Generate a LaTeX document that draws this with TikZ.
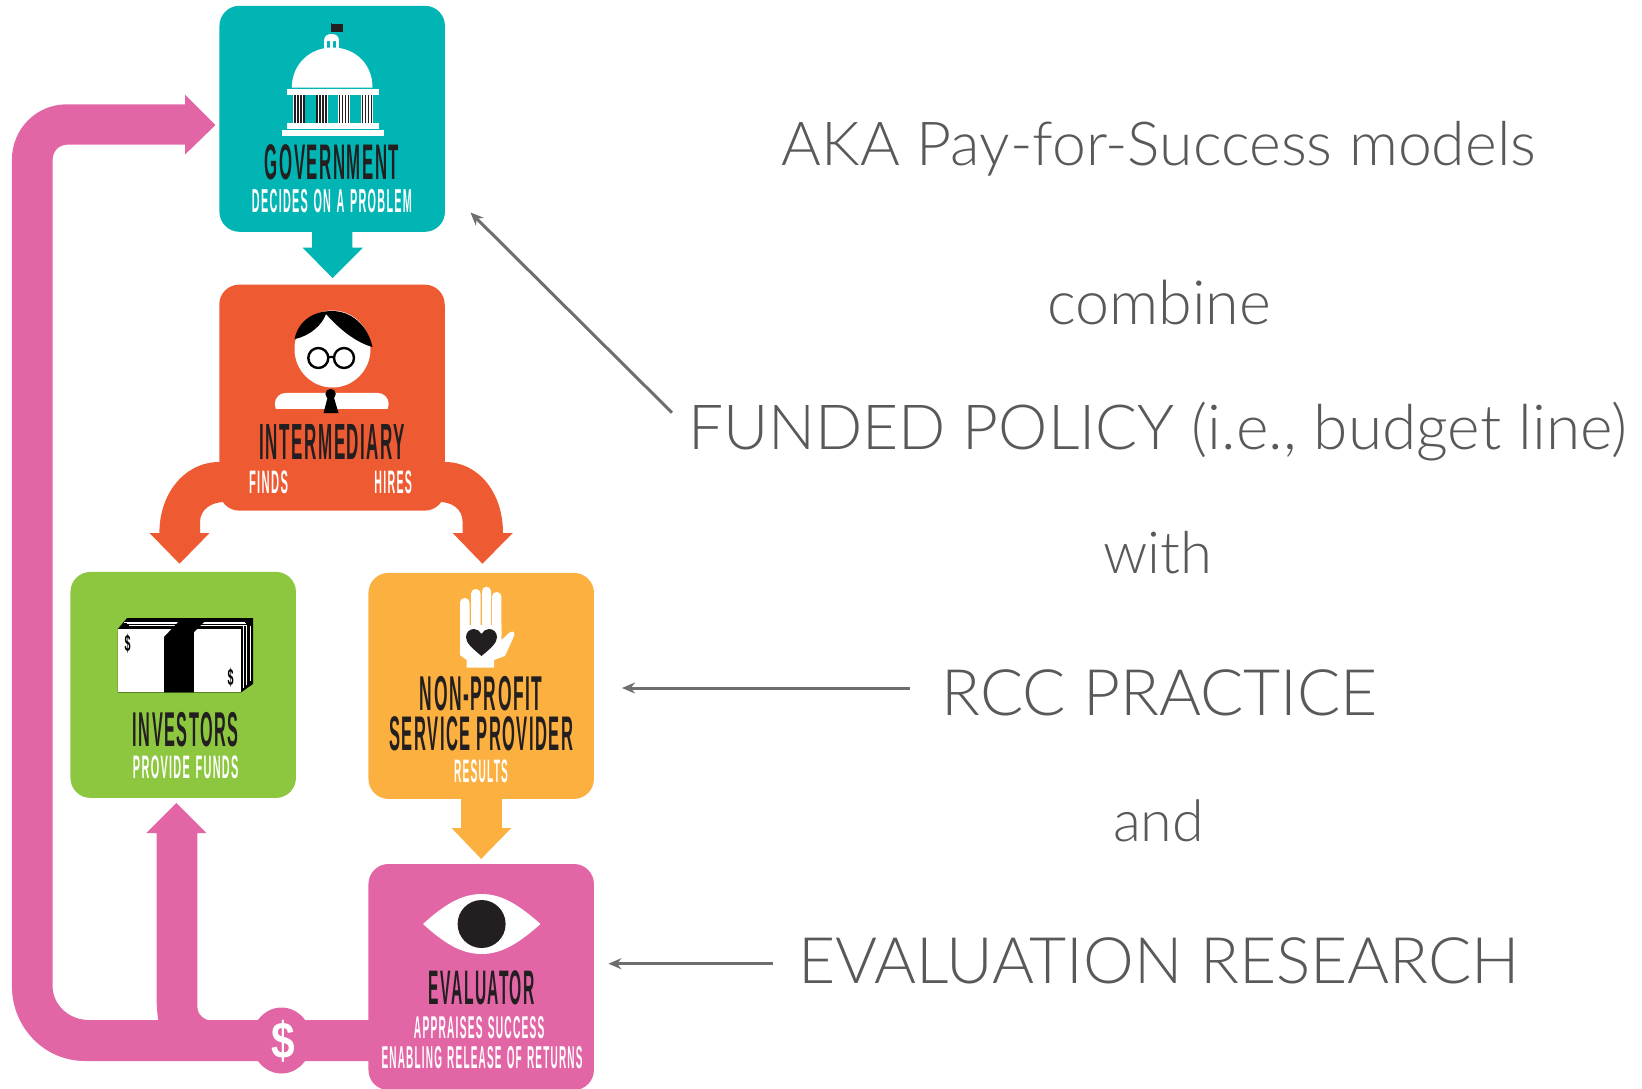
\documentclass[tikz,border=0pt]{standalone}
\usepackage{fontspec}
\usepackage{graphicx}
\usetikzlibrary{arrows.meta}
\setmainfont{Liberation Sans}
\newfontfamily\gill{Lato}[UprightFont={* Light}]
\newfontfamily\headfont{Liberation Sans Bold}[LetterSpace=9]
\newfontfamily\subfont{Liberation Sans Bold}[LetterSpace=12,WordSpace=1.3]
\definecolor{cteal}{HTML}{00B5B3}
\definecolor{corange}{HTML}{EE5A32}
\definecolor{cgreen}{HTML}{8DC63F}
\definecolor{cyellow}{HTML}{FBB040}
\definecolor{cpink}{HTML}{E265A5}
\definecolor{cblack}{HTML}{231F20}
\definecolor{ctext}{HTML}{58595B}
\definecolor{carrow}{HTML}{6D6E70}
\newcommand\fitb[3]{\resizebox*{#1pt}{#2pt}{\headfont #3}}
\newcommand\fitr[3]{\resizebox*{#1pt}{#2pt}{\subfont #3}}
\newcommand\fitd[3]{\resizebox*{#1pt}{#2pt}{\bfseries #3}}
\newcommand\fitg[2]{\resizebox{#1pt}{!}{\gill\fontsize{60}{72}\selectfont #2}}
\tikzset{
  boxnode/.style={rectangle,rounded corners=20pt,inner sep=0pt,minimum width=225.5pt,minimum height=226pt},
  headlabel/.style={inner sep=0pt,text=cblack},
  sublabel/.style={inner sep=0pt,text=white},
  sidetext/.style={inner sep=0pt,anchor=base,text=ctext},
  pointer/.style={draw=carrow,line width=3pt,-{Stealth[length=13pt,width=11pt]}}
}
\begin{document}
\begin{tikzpicture}[x=1pt,y=-1pt]
\useasboundingbox (0,0) rectangle (1642,1088);
% --- block arrows
\fill[cteal] (312,225) -- (352.3,225) -- (352.3,247.5) -- (363,247.5) -- (332.5,278) -- (302.5,247.5) -- (312,247.5) -- cycle;
\fill[cyellow] (461,790) -- (501.8,790) -- (501.8,828) -- (511.3,828) -- (481.2,858.9) -- (451.6,828) -- (461,828) -- cycle;
\fill[corange] (225,462) -- (219,462) .. controls (186,462) and (159.4,492) .. (159.4,533) -- (149.5,533) -- (179.5,563.7) -- (209.6,533) -- (200,533) -- (200,522) .. controls (200,509) and (212,502) .. (224.6,502) -- (240,480) -- cycle;
\fill[corange] (439,462) -- (445,462) .. controls (478,462) and (503,492) .. (503,533) -- (512.8,533) -- (482.4,563.7) -- (452.7,533) -- (462.6,533) -- (462.6,522) .. controls (462.6,509) and (452,502) .. (439.5,502) -- (424,480) -- cycle;
\fill[cpink] (215.5,125) -- (185,154.6) -- (185,144.6) -- (68,144.6) .. controls (59,144.6) and (52.6,151) .. (52.6,160) -- (52.6,986) .. controls (52.6,1005) and (69,1020) .. (89,1020) -- (380,1020) -- (380,1061) -- (85,1061) .. controls (44,1061) and (11.9,1027) .. (11.9,986) -- (11.9,160) .. controls (11.9,129) and (36,104.3) .. (67,104.3) -- (185,104.3) -- (185,94.6) -- cycle;
\fill[cpink] (158.5,1022) .. controls (157,1012) and (156.6,1005) .. (156.6,996) -- (156.6,833) -- (146.3,833) -- (176.4,803) -- (206.4,833) -- (197.3,833) -- (197.3,1006) .. controls (197.3,1015) and (204,1020) .. (212,1021) -- cycle;
\fill[cpink] (281.5,1040.5) ellipse [x radius=30,y radius=33];
% --- boxes
\node[boxnode,fill=cteal] (gov) at (332.2,118.8) {};
\node[boxnode,fill=corange] (inter) at (332,397.6) {};
\node[boxnode,fill=cgreen] (inv) at (183.2,684.9) {};
\node[boxnode,fill=cyellow] (npo) at (481.2,685.9) {};
\node[boxnode,fill=cpink] (eval) at (481.2,977) {};
% --- government icon
\fill[white] (291.8,87.5) .. controls (292,64) and (310,47.5) .. (332.5,47.5) .. controls (355,47.5) and (372.5,64) .. (372.5,87.5) -- cycle;
\fill[white] (324,41) .. controls (324,36) and (327,34) .. (331.5,34) .. controls (336,34) and (339,36) .. (339,41) -- cycle;
\foreach \cx in {325,331,337} {\fill[white] (\cx-1.5,41) rectangle (\cx+1.5,48);}
\fill[cblack] (331,24) rectangle (343,32);
\fill[cblack] (330.5,22.5) rectangle (332,24);
\fill[white] (286.7,89.3) rectangle (378.8,94.6);
\foreach \gx in {293.4,315.5,338,361} {
  \fill[white] (\gx,94.6) rectangle (\gx+12,123);
  \foreach \s in {1,4,7,10} {\fill[cblack] (\gx+\s-0.4,94.6) rectangle (\gx+\s+1.3,123);}
}
\fill[white] (286.7,123) rectangle (378.8,128.6);
\fill[white] (282,130.4) rectangle (383.5,136.4);
% --- intermediary icon
\fill[white] (332.5,349) ellipse [x radius=38,y radius=38.5];
\fill[black] (294.6,339) .. controls (298,322) and (312,311) .. (332,311) .. controls (352,311) and (368,326) .. (372.5,347) .. controls (358,343) and (342,332) .. (326,314) .. controls (322,325) and (310,336) .. (294.6,339) -- cycle;
\draw[black,line width=2.4pt] (318.3,358) circle [radius=10] (344,358) circle [radius=10] (328.3,357) -- (334,357);
\fill[white,rounded corners=11pt] (274.8,415) -- (274.8,392.9) -- (388.7,392.9) -- (388.7,415) -- cycle;
\fill[corange] (270,409.3) rectangle (393,420);
\fill[black] (330.6,394) circle [radius=5.2];
\fill[black] (328,396) -- (333.5,396) -- (338.5,413) -- (323.5,413) -- cycle;
% --- cash icon
\fill[black] (117.8,629) -- (127,618) -- (253,618) -- (253,684) -- (241,692.4) -- (117.8,692.4) -- cycle;
\foreach \dd in {0,3.4,6.8} {\draw[white,line width=.9pt] (124+\dd*0.8,622+\dd*0.5) -- (245+\dd*0.3,622+\dd*0.5);
  \draw[white,line width=.9pt] (243.5+\dd,626) -- (243.5+\dd,688-\dd);}
\fill[white] (117.8,629) rectangle (241,692.4);
\fill[black] (164,692.4) -- (164,637) -- (182,618) -- (208,618) -- (194,632) -- (193.8,692.4) -- cycle;
\node[inner sep=0pt,text=black] (dollarA) at (127.7,643.7) {\fitd{6}{19}{\$}};
\node[inner sep=0pt,text=black] (dollarB) at (230.5,677.7) {\fitd{6}{19}{\$}};
% --- hand icon
\fill[white,rounded corners=4.5pt] (460,598) rectangle (469.5,640);
\fill[white,rounded corners=4.5pt] (471,589) rectangle (480.5,640);
\fill[white,rounded corners=4.5pt] (482,586.7) rectangle (491,640);
\fill[white,rounded corners=4.5pt] (492,592) rectangle (501.4,640);
\fill[white] (460,625) -- (501.4,625) -- (501.4,640) -- (508,634) .. controls (511,630) and (516,631) .. (514,636) -- (505,656) -- (494,660) -- (494,667.7) -- (466.6,667.7) -- (466.6,660) -- (460,655) -- cycle;
\fill[cblack] (481.5,656) .. controls (472,648) and (466,643) .. (466,637) .. controls (466,632) and (470,629) .. (474,629) .. controls (477,629) and (480,631) .. (481.5,634) .. controls (483,631) and (486,629) .. (489,629) .. controls (493,629) and (497,632) .. (497,637) .. controls (497,643) and (491,648) .. (481.5,656) -- cycle;
% --- eye icon
\fill[white] (423,924) .. controls (445,904) and (462,894) .. (481.7,894) .. controls (501,894) and (518,904) .. (540.5,924) .. controls (518,944) and (501,954) .. (481.7,954) .. controls (462,954) and (445,944) .. (423,924) -- cycle;
\fill[cblack] (481.6,924) circle [radius=24];
% --- dollar on the bar
\node[inner sep=0pt,text=white] (dollar) at (282.8,1041) {\fitd{23.6}{42}{\$}};
% --- box labels
\node[headlabel] (tgov) at (332,162.3) {\fitb{134}{35.4}{GOVERNMENT}};
\node[sublabel] (sgov) at (332,200.7) {\fitr{160}{23.5}{DECIDES ON A PROBLEM}};
\node[headlabel] (tint) at (332.5,441.5) {\fitb{145.5}{35}{INTERMEDIARY}};
\node[sublabel] (sfin) at (268.5,482.1) {\fitr{39}{23}{FINDS}};
\node[sublabel] (shir) at (393.2,482.1) {\fitr{37.5}{23}{HIRES}};
\node[headlabel] (tinv) at (185.7,729.3) {\fitb{105.4}{34.6}{INVESTORS}};
\node[sublabel] (sinv) at (185.7,767.5) {\fitr{105.4}{23}{PROVIDE FUNDS}};
\node[headlabel] (tnon) at (481.2,693.3) {\fitb{122.5}{34.6}{NON-PROFIT}};
\node[headlabel] (tser) at (481.4,734.2) {\fitb{183.9}{34.4}{SERVICE PROVIDER}};
\node[sublabel] (sres) at (481,771.5) {\fitr{54}{23}{RESULTS}};
\node[headlabel] (teva) at (481.8,987.5) {\fitb{105.6}{34.3}{EVALUATOR}};
\node[sublabel] (sapp) at (479.2,1027.8) {\fitr{130.5}{22.3}{APPRAISES SUCCESS}};
\node[sublabel] (sena) at (482,1057.8) {\fitr{201}{22.4}{ENABLING RELEASE OF RETURNS}};
% --- right-hand text
\node[sidetext] (aka) at (1159,165.2) {\fitg{754}{AKA Pay-for-Success models}};
\node[sidetext] (combine) at (1159,324.7) {\fitg{224}{combine}};
\node[sidetext] (funded) at (1157.5,449) {\fitg{939}{FUNDED POLICY (i.e., budget line)}};
\node[sidetext] (with) at (1157.5,573) {\fitg{109}{with}};
\node[sidetext] (rcc) at (1159.8,715.6) {\fitg{436.4}{RCC PRACTICE}};
\node[sidetext] (and) at (1158.5,841) {\fitg{91}{and}};
\node[sidetext] (research) at (1159,983) {\fitg{722}{EVALUATION RESEARCH}};
% --- pointers
\coordinate (pA) at (672,412.7);
\coordinate (pAt) at (470.5,212.5);
\coordinate (pB) at (910,688);
\coordinate (pBt) at (622,688);
\coordinate (pC) at (773,963.7);
\coordinate (pCt) at (608.4,963.7);
\draw[pointer] (pA) -- (pAt);
\draw[pointer] (pB) -- (pBt);
\draw[pointer] (pC) -- (pCt);
\end{tikzpicture}
\end{document}
